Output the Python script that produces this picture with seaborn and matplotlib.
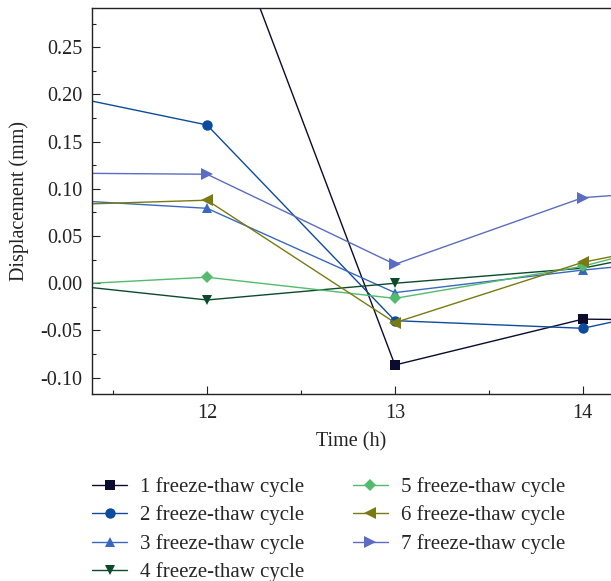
import matplotlib
matplotlib.use("Agg")
import matplotlib.pyplot as plt
from matplotlib.ticker import MultipleLocator
import seaborn as sns
import pandas as pd

# Time points (h) and displacement (mm) for each freeze-thaw cycle
time_h = [11, 12, 13, 14, 15]
cycle_1 = [0.60, 0.440, -0.0866, -0.038, -0.040]
cycle_2 = [0.209, 0.1677, -0.0396, -0.0477, -0.005]
cycle_3 = [0.091, 0.0794, -0.0099, 0.014, 0.033]
cycle_4 = [0.0037, -0.0177, 0.000, 0.016, 0.056]
cycle_5 = [-0.004, 0.0064, -0.016, 0.018, 0.070]
cycle_6 = [0.0817, 0.088, -0.0417, 0.0222, 0.062]
cycle_7 = [0.117, 0.1155, 0.0201, 0.0907, 0.105]

labels = [f"{i} freeze-thaw cycle" for i in range(1, 8)]
series = [cycle_1, cycle_2, cycle_3, cycle_4, cycle_5, cycle_6, cycle_7]
colors = ["#0b0b2e", "#0d4c9c", "#3a68be", "#0c4a2c", "#52bb6c", "#7a7a12", "#5b6cc2"]
markers = ["s", "o", "^", "v", "D", "<", ">"]
msizes = [7, 7.5, 7.5, 7.5, 6.5, 8, 8]

sns.set_theme(style="ticks")
plt.rcParams["font.family"] = ["Liberation Serif", "DejaVu Serif"]

fig = plt.figure(figsize=(6.11, 5.81), dpi=100)
ax = fig.add_axes([92 / 611, 1 - 394 / 581, 1 - 92 / 611, (394 - 8) / 581])

for lab, vals, col, mk, ms in zip(labels, series, colors, markers, msizes):
    df = pd.DataFrame({"Time (h)": time_h, "Displacement (mm)": vals})
    sns.lineplot(data=df, x="Time (h)", y="Displacement (mm)", ax=ax,
                 color=col, marker=mk, markersize=ms, markeredgewidth=0,
                 linewidth=1.0, label=lab, legend=False)

ax.set_xlim(11.388, 14.15)
ax.set_ylim(-0.1173, 0.2916)
ax.xaxis.set_major_locator(MultipleLocator(1))
ax.xaxis.set_minor_locator(MultipleLocator(0.5))
ax.yaxis.set_major_locator(MultipleLocator(0.05))
ax.yaxis.set_minor_locator(MultipleLocator(0.025))
ax.yaxis.set_major_formatter(plt.FuncFormatter(lambda v, p: f"{v:.2f}"))

ax.tick_params(which="major", direction="in", length=5.5, width=0.8,
               labelsize=14.5, pad=7, colors="#222222")
ax.tick_params(which="minor", direction="in", length=3, width=0.8, colors="#222222")
ax.tick_params(top=False, right=False, which="both")

for side in ["left", "bottom", "top"]:
    ax.spines[side].set_linewidth(1.0)
    ax.spines[side].set_color("#222222")
ax.spines["right"].set_visible(False)

ax.set_xlabel("Time (h)", fontsize=14.5, labelpad=7, color="#222222")
ax.set_ylabel("Displacement (mm)", fontsize=14.5, labelpad=8, color="#222222")

handles, hl = ax.get_legend_handles_labels()
fig.legend(handles, hl, loc="upper left", bbox_to_anchor=(92 / 611, 1 - 477 / 581),
           ncol=2, frameon=False, fontsize=15, handlelength=1.7,
           handletextpad=0.62, columnspacing=2.3, labelspacing=0.41,
           borderpad=0, borderaxespad=0)

fig.savefig("out.png", dpi=100)
